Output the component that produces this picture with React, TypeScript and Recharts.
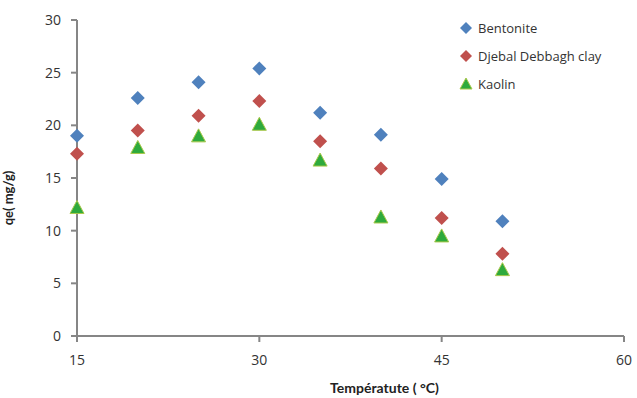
import { ScatterChart, Scatter, XAxis, YAxis } from "recharts";

const temperatures = [15, 20, 25, 30, 35, 40, 45, 50];
const bentonite = [19.0, 22.6, 24.1, 25.4, 21.2, 19.1, 14.9, 10.9];
const djebal = [17.3, 19.5, 20.9, 22.3, 18.5, 15.9, 11.2, 7.8];
const kaolin = [12.2, 17.9, 19.0, 20.1, 16.7, 11.3, 9.5, 6.3];
const xTicks = [15, 30, 45, 60];
const yTicks = [0, 5, 10, 15, 20, 25, 30];

const toPoints = (vals: number[]) =>
  temperatures.map((t, i) => ({ x: t, y: vals[i] }));

const series = [
  { name: "Bentonite", data: toPoints(bentonite), color: "#4f81bd", shape: "diamond" },
  { name: "Djebal Debbagh clay", data: toPoints(djebal), color: "#c0504d", shape: "diamond" },
  { name: "Kaolin", data: toPoints(kaolin), color: "#2eaa3c", shape: "triangle" },
];

const font = "'Open Sans', 'Noto Sans', sans-serif";
const titleFont = "Lato, 'Open Sans', sans-serif";

function Diamond(props: any) {
  const { cx, cy, fill } = props;
  return (
    <polygon
      points={`${cx},${cy - 7} ${cx + 7},${cy} ${cx},${cy + 7} ${cx - 7},${cy}`}
      fill={fill}
    />
  );
}

function Triangle(props: any) {
  const { cx, cy, fill } = props;
  return (
    <polygon
      points={`${cx},${cy - 7} ${cx + 7},${cy + 6} ${cx - 7},${cy + 6}`}
      fill={fill}
      stroke="#a9c84a"
      strokeWidth={1}
    />
  );
}

function LegendBox() {
  return (
    <div
      style={{
        position: "absolute",
        left: 458,
        top: 14,
        fontFamily: font,
        fontSize: 13,
        color: "#333",
      }}
    >
      {series.map((s) => (
        <div key={s.name} style={{ height: 28, display: "flex", alignItems: "center" }}>
          <svg width={16} height={16} style={{ marginRight: 4 }}>
            {s.shape === "diamond" ? (
              <polygon points="8,2 14,8 8,14 2,8" fill={s.color} />
            ) : (
              <polygon points="8,2 14,13 2,13" fill={s.color} stroke="#a9c84a" />
            )}
          </svg>
          <span>{s.name}</span>
        </div>
      ))}
    </div>
  );
}

export default function App() {
  return (
    <div style={{ position: "absolute", left: 0, top: 0, width: 637, height: 398, background: "#fff" }}>
      <ScatterChart
        width={637}
        height={398}
        margin={{ top: 20, right: 13, left: 0, bottom: 0 }}
      >
        <XAxis
          type="number"
          dataKey="x"
          domain={[15, 60]}
          ticks={xTicks}
          height={62}
          stroke="#868686"
          strokeWidth={2}
          tickSize={6}
          tickMargin={13}
          tick={{ fill: "#333", fontSize: 14, fontFamily: font }}
          label={{
            value: "Températute ( °C)",
            position: "insideBottom",
            offset: 5,
            dx: 34,
            style: { fill: "#222", fontSize: 14, fontWeight: 700, fontFamily: titleFont },
          }}
        />
        <YAxis
          type="number"
          dataKey="y"
          domain={[0, 30]}
          ticks={yTicks}
          width={77}
          stroke="#868686"
          strokeWidth={2}
          tickSize={6}
          tickMargin={10}
          tick={{ fill: "#333", fontSize: 14, fontFamily: font }}
          label={{
            value: "qe( mg/g)",
            angle: -90,
            position: "insideLeft",
            offset: 8,
            dy: 20,
            style: {
              textAnchor: "middle",
              fill: "#222",
              fontSize: 13,
              fontWeight: 700,
              fontFamily: titleFont,
            },
          }}
        />
        {series.map((s) => (
          <Scatter
            key={s.name}
            name={s.name}
            data={s.data}
            fill={s.color}
            shape={s.shape === "diamond" ? <Diamond /> : <Triangle />}
            isAnimationActive={false}
          />
        ))}
      </ScatterChart>
      <LegendBox />
    </div>
  );
}
